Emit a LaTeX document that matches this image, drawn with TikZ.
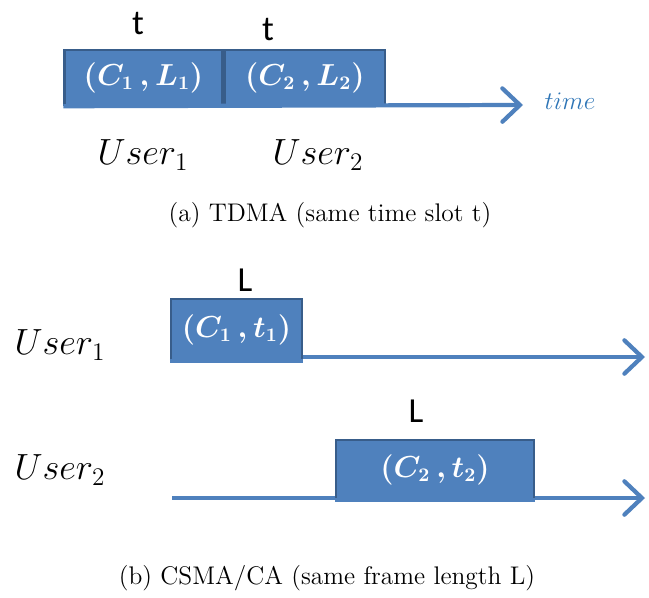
\documentclass[tikz,border=0pt]{standalone}
\usepackage{mathtools,amssymb}
\usepackage{fontspec}
\newfontfamily\slotfont{Carlito}
\usetikzlibrary{arrows.meta, positioning}
\definecolor{slotblue}{RGB}{79,129,189}
\definecolor{slotedge}{RGB}{56,93,138}
\definecolor{timeblue}{RGB}{46,117,182}

\begin{document}
\begin{tikzpicture}[x=0.02cm, y=-0.02cm,
        slot/.style={draw=slotedge, line width=1.4pt, fill=slotblue, text=white,
            inner sep=0pt, font=\fontsize{16}{19}\selectfont\boldmath},
        axis/.style={draw=slotblue, line width=2.4pt,
            -{Straight Barb[length=10pt, width=19pt, line cap=round]}},
        lbl/.style={font=\slotfont\fontsize{20}{24}\selectfont},
        usr/.style={font=\fontsize{22}{26}\selectfont}]
        \useasboundingbox (0,0) rectangle (649,598);

        % (a) TDMA
        \node[slot, minimum width=3.16cm, minimum height=1.1cm] (slotA) at (143.5,77.5) {$(C_1\,,L_1)$};
        \node[slot, minimum width=3.2cm, minimum height=1.1cm, right=0pt of slotA] (slotB) {$(C_2\,,L_2)$};
        \coordinate (timeEnd) at (523,105);
        \draw[axis] (slotA.south west) -- (timeEnd);
        \node[text=timeblue, font=\fontsize{15}{18}\selectfont] (timeLbl) at (570,101) {$time$};
        \node[lbl] (tA) at (138,24) {t};
        \node[lbl] (tB) at (268,30) {t};
        \node[usr] (userA) at (143,155) {$User_1$};
        \node[usr] (userB) at (318,155) {$User_2$};
        \node[font=\fontsize{14.5}{17}\selectfont] (capA) at (330,215) {(a) TDMA (same time slot t)};

        % (b) CSMA/CA
        \coordinate (startA) at (172,357);
        \coordinate (endA) at (645,357);
        \draw[axis] (startA) -- (endA);
        \node[slot, minimum width=2.62cm, minimum height=1.22cm] (frameA) at (236.5,329.5) {$(C_1\,,t_1)$};
        \draw[slotblue, line width=2.4pt] (frameA.south west) -- (frameA.south east);
        \coordinate (startB) at (172,498);
        \coordinate (endB) at (645,498);
        \draw[axis] (startB) -- (endB);
        \node[slot, minimum width=3.96cm, minimum height=1.18cm] (frameB) at (435,469.5) {$(C_2\,,t_2)$};
        \draw[slotblue, line width=2.4pt] (frameB.south west) -- (frameB.south east);
        \node[lbl] (lenA) at (245,280) {L};
        \node[lbl] (lenB) at (416,411) {L};
        \node[usr, font=\fontsize{21}{25}\selectfont] (userC) at (60,345) {$User_1$};
        \node[usr, font=\fontsize{21}{25}\selectfont] (userD) at (60,470) {$User_2$};
        \node[font=\fontsize{14.5}{17}\selectfont] (capB) at (327,578) {(b) CSMA/CA (same frame length L)};
    \end{tikzpicture}
\end{document}
